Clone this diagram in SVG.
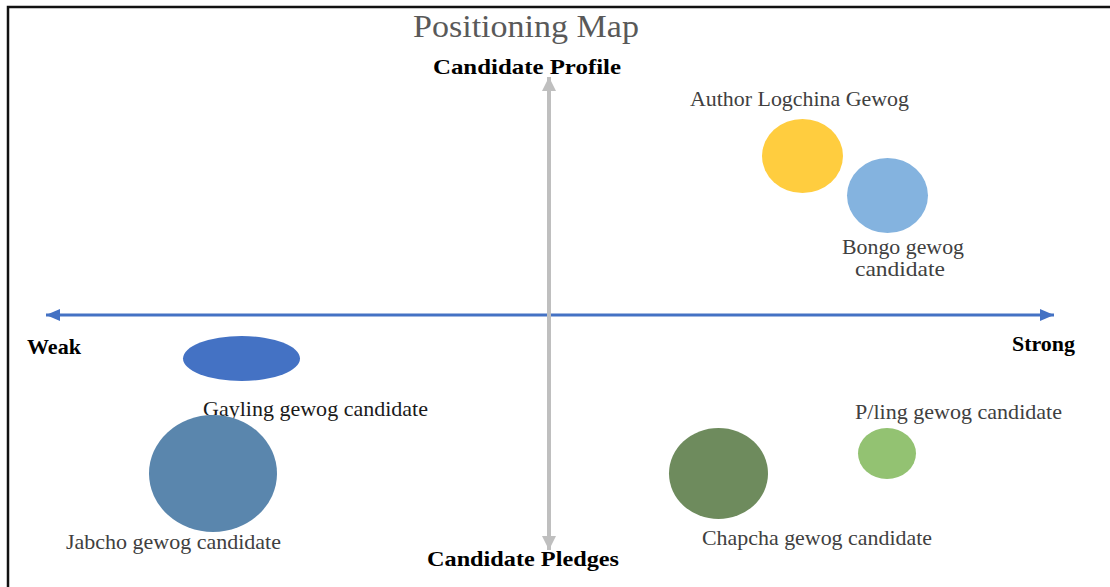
<svg xmlns="http://www.w3.org/2000/svg" width="1110" height="587" viewBox="0 0 1110 587">
<style>
text{font-family:"Liberation Serif","Times New Roman",serif;}
.lbl{font-size:21px;fill:#404040;}
.ax{font-size:21px;font-weight:bold;fill:#000;}
.title{font-size:32px;fill:#595959;}
</style>
<defs>
<marker id="ab" markerUnits="userSpaceOnUse" markerWidth="15" markerHeight="12" refX="14" refY="6" orient="auto-start-reverse">
<path d="M0,0 L14,6 L0,12 Z" fill="#4472C4"/>
</marker>
<marker id="ag" markerUnits="userSpaceOnUse" markerWidth="15" markerHeight="14" refX="14" refY="7" orient="auto-start-reverse">
<path d="M0,0 L14,7 L0,14 Z" fill="#BFBFBF"/>
</marker>
</defs>
<rect width="1110" height="587" fill="#fff"/>
<g id="frame" stroke="#111" stroke-width="2.5" fill="none">
<path d="M8,587 V7 H1110"/>
</g>
<text class="title" x="526" y="37" text-anchor="middle" textLength="226" lengthAdjust="spacingAndGlyphs">Positioning Map</text>
<g id="connectors">
<line x1="46" y1="315" x2="1054" y2="315" stroke="#4472C4" stroke-width="3" marker-start="url(#ab)" marker-end="url(#ab)"/>
<line x1="549" y1="550" x2="549" y2="77" stroke="#BFBFBF" stroke-width="4" marker-start="url(#ag)" marker-end="url(#ag)"/>
</g>
<g id="axis-labels">
<text class="ax" x="527" y="74" text-anchor="middle" textLength="188" lengthAdjust="spacingAndGlyphs">Candidate Profile</text>
<text class="ax" x="523" y="566" text-anchor="middle" textLength="192" lengthAdjust="spacingAndGlyphs">Candidate Pledges</text>
<text class="ax" x="27" y="354" textLength="54" lengthAdjust="spacingAndGlyphs">Weak</text>
<text class="ax" x="1012" y="351" textLength="63" lengthAdjust="spacingAndGlyphs">Strong</text>
</g>
<g id="author">
<ellipse cx="802.5" cy="156" rx="40.5" ry="37" fill="#FFCD3F"/>
<text class="lbl" x="690" y="106" textLength="219" lengthAdjust="spacingAndGlyphs">Author Logchina Gewog</text>
</g>
<g id="bongo">
<ellipse cx="887.5" cy="195.5" rx="40.5" ry="37.5" fill="#84B3DF"/>
<text class="lbl" x="842" y="254" textLength="122" lengthAdjust="spacingAndGlyphs">Bongo gewog</text>
<text class="lbl" x="855" y="276" textLength="90" lengthAdjust="spacingAndGlyphs">candidate</text>
</g>
<g id="gayling">
<ellipse cx="241.5" cy="358.5" rx="58.5" ry="22.5" fill="#4472C4"/>
<text class="lbl" x="203" y="416" textLength="225" lengthAdjust="spacingAndGlyphs" style="fill:#1a1a1a">Gayling gewog candidate</text>
</g>
<g id="jabcho">
<ellipse cx="213" cy="473.5" rx="64" ry="58.5" fill="#5A86AD"/>
<text class="lbl" x="66" y="549" textLength="215" lengthAdjust="spacingAndGlyphs">Jabcho gewog candidate</text>
</g>
<g id="chapcha">
<ellipse cx="718.5" cy="473.5" rx="49.5" ry="45.5" fill="#6E8B5D"/>
<text class="lbl" x="702" y="545" textLength="230" lengthAdjust="spacingAndGlyphs">Chapcha gewog candidate</text>
</g>
<g id="pling">
<ellipse cx="887" cy="453.5" rx="29" ry="25.5" fill="#93C272"/>
<text class="lbl" x="855" y="419" textLength="207" lengthAdjust="spacingAndGlyphs">P/ling gewog candidate</text>
</g>
</svg>
